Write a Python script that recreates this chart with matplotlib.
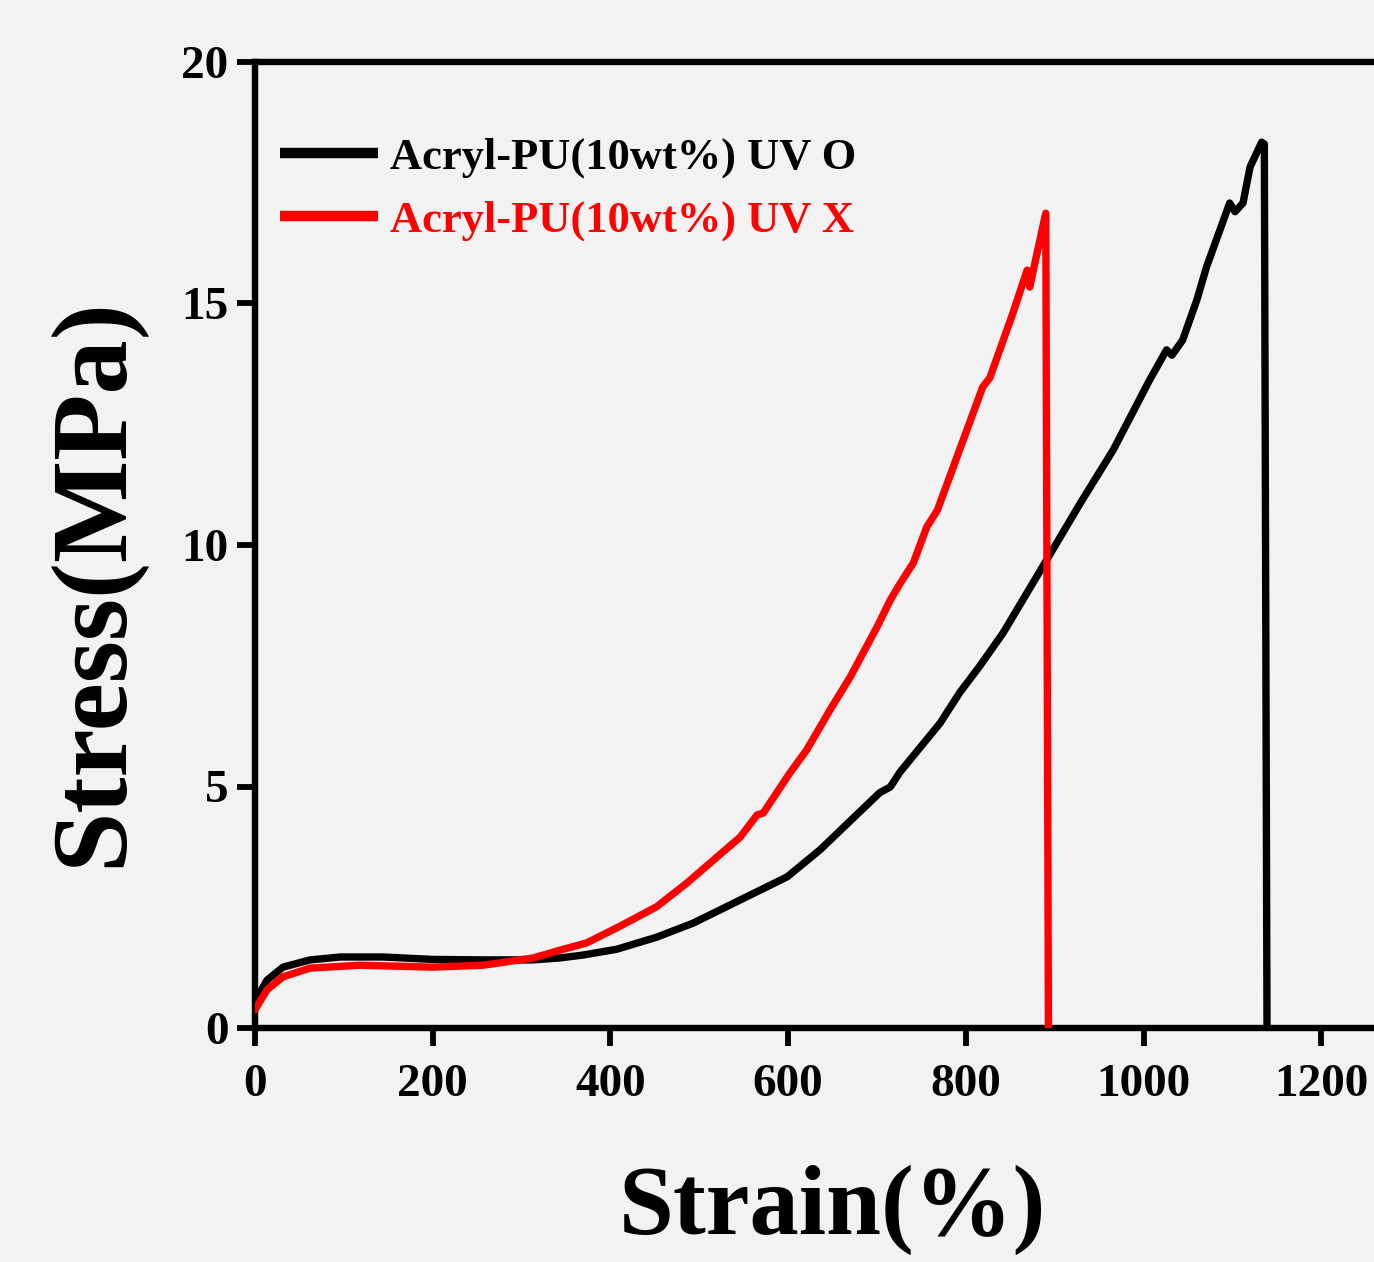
import matplotlib
matplotlib.use("Agg")
import matplotlib.pyplot as plt

# Black curve: Acryl-PU(10wt%) UV O
strain_uv_o = [0, 13.5, 31.5, 62, 96, 144, 200, 257, 313, 343, 369, 407, 452, 493, 546, 599,
               636, 703, 715, 726, 771, 793, 816, 842, 891, 929, 966, 1007, 1026, 1032, 1044,
               1060, 1071, 1097, 1103, 1112, 1120, 1133, 1136, 1139]
stress_uv_o = [0.55, 0.99, 1.26, 1.41, 1.47, 1.47, 1.42, 1.41, 1.41, 1.45, 1.51, 1.63, 1.88, 2.17,
               2.65, 3.13, 3.69, 4.87, 4.99, 5.30, 6.31, 6.94, 7.50, 8.18, 9.69, 10.87, 11.97,
               13.42, 14.04, 13.93, 14.24, 15.07, 15.76, 17.08, 16.90, 17.08, 17.83, 18.34, 18.30,
               0.0]

# Red curve: Acryl-PU(10wt%) UV X
strain_uv_x = [0, 13.5, 31.5, 62, 118, 200, 257, 313, 343, 373, 410, 452, 486, 520, 546, 565,
               572, 602, 621, 647, 670, 700, 715, 726, 741, 756, 768, 790, 819, 827, 853, 869,
               872, 876, 890, 893]
stress_uv_x = [0.38, 0.79, 1.06, 1.24, 1.30, 1.26, 1.30, 1.45, 1.61, 1.76, 2.10, 2.51, 3.00, 3.54,
               3.95, 4.41, 4.45, 5.28, 5.76, 6.58, 7.27, 8.30, 8.86, 9.20, 9.63, 10.37, 10.72,
               11.82, 13.27, 13.46, 14.80, 15.69, 15.34, 15.69, 16.87, 0.0]

labels = ["Acryl-PU(10wt%) UV O", "Acryl-PU(10wt%) UV X"]
colors = ["black", "#ff0000"]
x_ticks = [0, 200, 400, 600, 800, 1000, 1200]
y_ticks = [0, 5, 10, 15, 20]

bg = "#f2f2f2"
plt.rcParams['font.family'] = ['Liberation Serif', 'DejaVu Serif']
plt.rcParams['font.weight'] = 'bold'

W, H = 1374, 1262
fig = plt.figure(figsize=(W / 100, H / 100), dpi=100, facecolor=bg)
ax_left = 255 / W
ax_bottom = (H - 1028) / H
ax_height = (1028 - 62) / H
ax_width = (1300 * 177.7 / 200) / W
ax = fig.add_axes([ax_left, ax_bottom, ax_width, ax_height], facecolor=bg)

ax.plot(strain_uv_o, stress_uv_o, color=colors[0], lw=5.3, label=labels[0],
        solid_joinstyle='round', solid_capstyle='round', zorder=3)
ax.plot(strain_uv_x, stress_uv_x, color=colors[1], lw=5.3, label=labels[1],
        solid_joinstyle='round', solid_capstyle='round', zorder=4)

ax.set_xlim(0, 1300)
ax.set_ylim(0, 20)
ax.set_xticks(x_ticks)
ax.set_yticks(y_ticks)
ax.tick_params(axis='both', direction='out', length=13, width=4.2, labelsize=34, color='black')
ax.tick_params(axis='x', pad=13)
ax.tick_params(axis='y', pad=6)
for lab in ax.get_xticklabels() + ax.get_yticklabels():
    lab.set_fontweight('bold')

for s in ['left', 'bottom', 'top', 'right']:
    ax.spines[s].set_linewidth(4.6)
    ax.spines[s].set_color('black')

ax.set_xlabel("Strain(%)", fontsize=71, fontweight='bold')
ax.set_ylabel("Stress(MPa)", fontsize=78, fontweight='bold')
ax.xaxis.set_label_coords((832 - 255) / 1155, (1028 - 1210) / 966)
ax.xaxis.label.set_va('center')
ax.yaxis.set_label_coords((95 - 255) / 1155, (1028 - 582) / 966)
ax.yaxis.label.set_va('center')

leg = ax.legend(loc='upper left', bbox_to_anchor=((280 - 255) / 1155, (1028 - 137) / 966),
                frameon=False, handlelength=2.2, handletextpad=0.27,
                labelspacing=0.51, borderaxespad=0, borderpad=0, labelcolor='linecolor',
                prop={'weight': 'bold', 'size': 32})
for line in leg.get_lines():
    line.set_linewidth(7.5)
    line.set_solid_capstyle('butt')

fig.savefig("out.png", dpi=100, facecolor=bg)
